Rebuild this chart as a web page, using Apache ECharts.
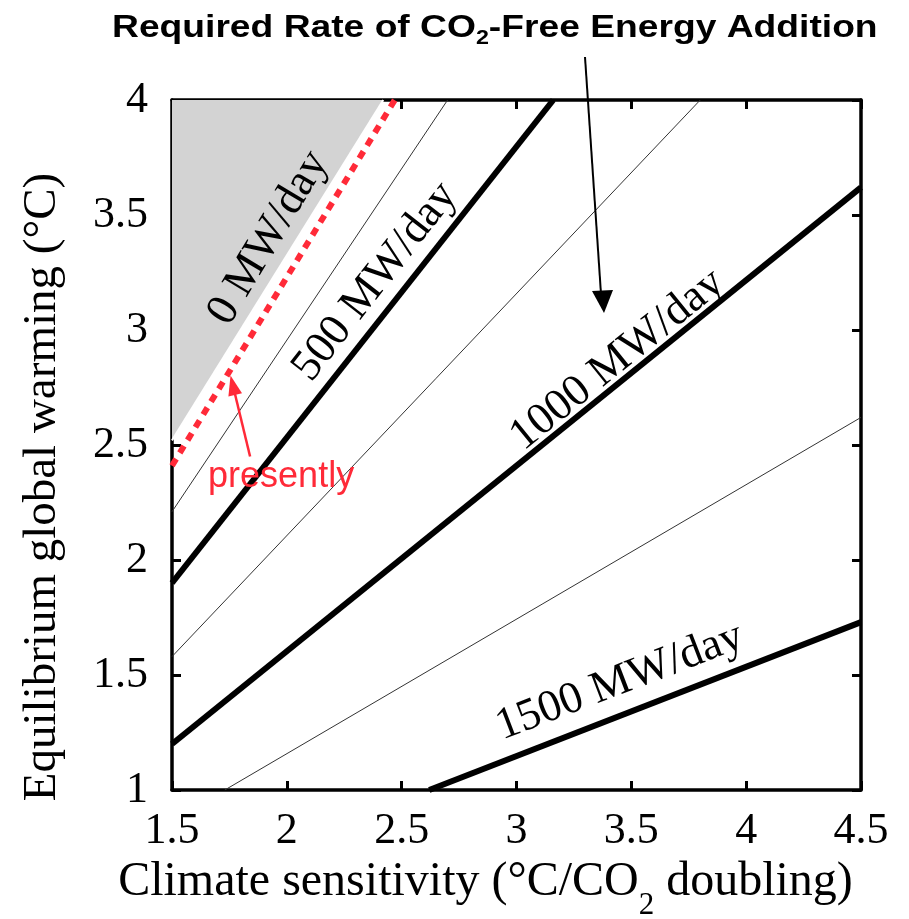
<!DOCTYPE html>
<html>
<head>
<meta charset="utf-8">
<script src="https://cdn.jsdelivr.net/npm/echarts@6/dist/echarts.min.js"></script>
<style>
  html, body { margin: 0; padding: 0; background: #fff; }
  #chart { width: 909px; height: 919px; }
</style>
</head>
<body>
<div id="chart"></div>
<script>
// Equilibrium warming vs. climate sensitivity for different rates of CO2-free energy addition.
// Each line is given by the two points where it crosses the plot frame.
const zeroRateEdge = [[1.5, 2.52], [2.42, 4.0]];   // 0 MW/day boundary (shaded region above)
const presentLine  = [[1.5, 2.41], [2.47, 4.0]];   // present rate (dotted red)
const rate250      = [[1.5, 2.21], [2.70, 4.0]];
const rate500      = [[1.5, 1.90], [3.16, 4.0]];
const rate750      = [[1.5, 1.58], [3.80, 4.0]];
const rate1000     = [[1.5, 1.20], [4.5, 3.62]];
const rate1250     = [[1.73, 1.0], [4.5, 2.62]];
const rate1500     = [[2.62, 1.0], [4.5, 1.73]];

// Labels written along the lines
const rateLabels = ['0 MW/day', '500 MW/day', '1000 MW/day', '1500 MW/day'];
const labelX     = [1.92, 2.385, 3.44, 3.45];
const labelY     = [3.40, 3.21, 2.87, 1.47];
const labelAngle = [59, 52, 39, 21];

// "presently" note and its arrow (tail -> head)
const presentNote  = ['presently', 1.975, 2.36];
const presentArrow = [[1.84, 2.45], [1.765, 2.76]];

const chartTitle = 'Required Rate of CO{sub|2}-Free Energy Addition';

const SERIF = '"Liberation Serif", "Times New Roman", serif';
const SANS = '"Liberation Sans", Arial, sans-serif';
const RED = '#ff2a38';

const chart = echarts.init(document.getElementById('chart'), null, { renderer: 'canvas' });

function frameAxis(extra) {
  return Object.assign({
    type: 'value',
    axisLine: { show: true, onZero: false, lineStyle: { color: '#000', width: 3.5 } },
    axisTick: { show: true, inside: true, length: 9, lineStyle: { color: '#000', width: 3 } },
    splitLine: { show: false }
  }, extra);
}

function segment(data, color, width, type, z) {
  return {
    type: 'line', data: data, symbol: 'none', silent: true, z: z,
    lineStyle: { color: color, width: width, type: type || 'solid', cap: 'butt' }
  };
}

const option = {
  animation: false,
  backgroundColor: '#fff',
  grid: { left: 172, top: 100, width: 689, height: 690, containLabel: false, outerBoundsMode: 'none' },
  xAxis: [
    frameAxis({
      position: 'bottom', min: 1.5, max: 4.5, interval: 0.5,
      axisLabel: { fontFamily: SERIF, fontSize: 44, color: '#000', margin: 19 },
      name: 'Climate sensitivity (°C/CO{sub|2} doubling)',
      nameLocation: 'middle', nameGap: 92, nameMoveOverlap: false,
      nameTextStyle: {
        fontFamily: SERIF, fontSize: 48, color: '#000', lineHeight: 78, verticalAlign: 'middle',
        padding: [0, 62, 0, 0],
        rich: { sub: { fontFamily: SERIF, fontSize: 31, lineHeight: 31, verticalAlign: 'bottom', color: '#000' } }
      }
    }),
    frameAxis({ position: 'top', min: 1.5, max: 4.5, interval: 0.5, axisLabel: { show: false } })
  ],
  yAxis: [
    frameAxis({
      position: 'left', min: 1, max: 4, interval: 0.5,
      axisLabel: { fontFamily: SERIF, fontSize: 44, color: '#000', margin: 24 },
      name: 'Equilibrium global warming (°C)',
      nameLocation: 'middle', nameGap: 106, nameRotate: 90, nameMoveOverlap: false,
      nameTextStyle: { fontFamily: SERIF, fontSize: 47, color: '#000', padding: [0, 84, 0, 0] }
    }),
    frameAxis({ position: 'right', min: 1, max: 4, interval: 0.5, axisLabel: { show: false } })
  ],
  series: [
    {
      type: 'line', data: zeroRateEdge, symbol: 'none', silent: true, z: 1,
      lineStyle: { color: '#fff', width: 2 },
      areaStyle: { color: '#d3d3d3', opacity: 1, origin: 'end' }
    },
    segment(rate250, '#333', 1, null, 2),
    segment(rate750, '#333', 1, null, 2),
    segment(rate1250, '#333', 1, null, 2),
    Object.assign(segment(presentLine, RED, 6, [8, 7], 3), {
      markLine: {
        silent: true, symbol: ['none', 'triangle'], symbolSize: [14, 20],
        label: { show: false },
        lineStyle: { color: RED, width: 2.5, type: 'solid' },
        data: [[{ coord: presentArrow[0] }, { coord: presentArrow[1] }]]
      }
    }),
    segment(rate500, '#000', 6, null, 4),
    segment(rate1000, '#000', 6, null, 4),
    segment(rate1500, '#000', 6, null, 4),
    {
      type: 'scatter', symbolSize: 0, silent: true, z: 5,
      itemStyle: { opacity: 1 },
      data: rateLabels.map((t, i) => ({
        value: [labelX[i], labelY[i]],
        label: {
          show: true, formatter: t, rotate: labelAngle[i], position: 'inside',
          fontFamily: SERIF, fontSize: 45, color: '#000', opacity: 1
        }
      })).concat([{
        value: [presentNote[1], presentNote[2]],
        label: {
          show: true, formatter: presentNote[0], position: 'inside',
          fontFamily: SANS, fontSize: 36, color: RED, opacity: 1
        }
      }])
    }
  ],
  graphic: [
    {
      type: 'text', silent: true, x: 112, y: 8, scaleX: 1.163, scaleY: 1,
      style: {
        text: chartTitle,
        fontFamily: SANS, fontWeight: 'bold', fontSize: 32, fill: '#000',
        lineHeight: 40, verticalAlign: 'top',
        rich: {
          sub: { fontFamily: SANS, fontWeight: 'bold', fontSize: 20, lineHeight: 23, verticalAlign: 'bottom', fill: '#000' }
        }
      }
    },
    {
      type: 'line', silent: true, z: 100,
      shape: { x1: 585, y1: 57, x2: 601, y2: 294 },
      style: { stroke: '#000', lineWidth: 2 }
    },
    {
      type: 'polygon', silent: true, z: 100,
      shape: { points: [[592, 291], [613, 290], [604, 313]] },
      style: { fill: '#000' }
    }
  ]
};

chart.setOption(option);
</script>
</body>
</html>
